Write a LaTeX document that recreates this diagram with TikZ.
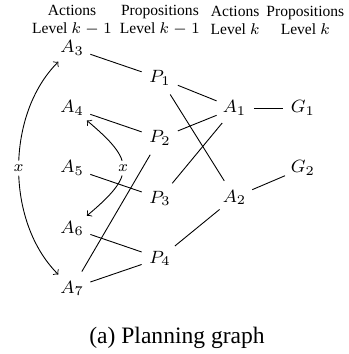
\documentclass[tikz,border=0pt]{standalone}
\usepackage[no-math]{fontspec}
\setmainfont{Liberation Serif}
\begin{document}
\begin{tikzpicture}[every node/.style={circle, minimum size=17pt, inner sep=0pt, font=\footnotesize},
  hdr/.style={rectangle, align=center, font=\scriptsize, minimum size=0pt},
  mutex/.style={fill=white, inner sep=0.5pt, minimum size=0pt, font=\scriptsize}]
  \useasboundingbox (0,0) rectangle (5.505,5.60);

  % column headers
  \node[hdr] (h1) at (1.14,5.28) {Actions\\Level $k-1$};
  \node[hdr] (h2) at (2.53,5.28) {Propositions\\Level $k-1$};
  \node[hdr] (h3) at (3.72,5.28) {Actions\\Level $k$};
  \node[hdr] (h4) at (4.83,5.28) {Propositions\\Level $k$};

  % actions, level k-1
  \node (A3) at (1.14,4.84) {$A_3$};
  \node (A4) at (1.14,3.89) {$A_4$};
  \node (A5) at (1.14,2.94) {$A_5$};
  \node (A6) at (1.14,1.99) {$A_6$};
  \node (A7) at (1.14,1.04) {$A_7$};

  % propositions, level k-1
  \node (P1) at (2.53,4.365) {$P_1$};
  \node (P2) at (2.53,3.415) {$P_2$};
  \node (P3) at (2.53,2.465) {$P_3$};
  \node (P4) at (2.53,1.515) {$P_4$};

  % actions and goals, level k
  \node (A1) at (3.71,3.89) {$A_1$};
  \node (A2) at (3.71,2.48) {$A_2$};
  \node (G1) at (4.79,3.89) {$G_1$};
  \node (G2) at (4.79,2.94) {$G_2$};

  \draw (A3) -- (P1);
  \draw (A4) -- (P2);
  \draw (A5) -- (P3);
  \draw (A6) -- (P4);
  \draw (A7) -- (P4);
  \draw (A7) -- (P2);
  \draw (P1) -- (A1);
  \draw (P1) -- (A2);
  \draw (P2) -- (A1);
  \draw (P3) -- (A1);
  \draw (P4) -- (A2);
  \draw (A1) -- (G1);
  \draw (A2) -- (G2);

  % mutex links
  \draw[<->, bend right=45, looseness=0.9] (A3) to node[mutex] {$x$} (A7);
  \draw[<->, bend left=50, looseness=1.7] (A4) to node[mutex] {$x$} (A6);

  \node[rectangle, minimum size=0pt, font=\fontsize{10.6}{12}\selectfont] (cap) at (2.8,0.25) {(a) Planning graph};
\end{tikzpicture}
\end{document}
